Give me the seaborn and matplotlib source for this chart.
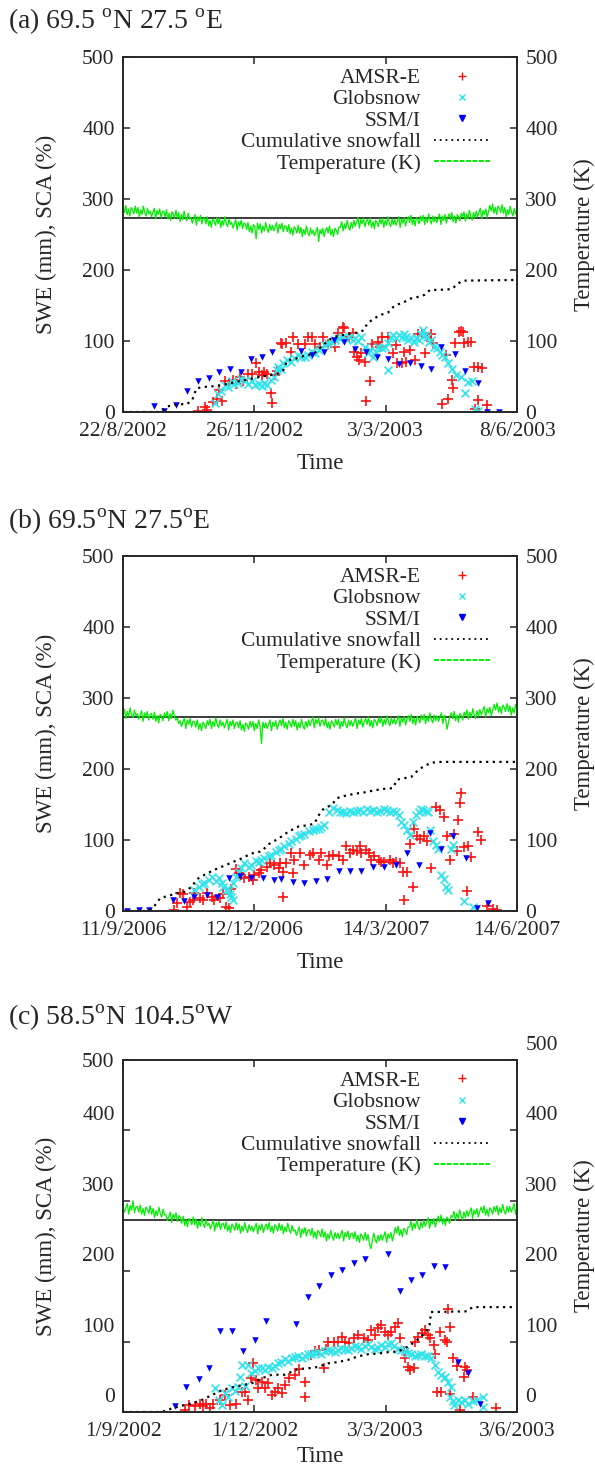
import matplotlib
matplotlib.use("Agg")
import matplotlib.pyplot as plt
import matplotlib.transforms as mtransforms
from matplotlib.lines import Line2D
import numpy as np
import pandas as pd
import seaborn as sns

sns.set_style("ticks")
plt.rcParams["font.family"] = ["Liberation Serif", "DejaVu Serif"]
plt.rcParams["mathtext.fontset"] = "custom"
plt.rcParams["mathtext.rm"] = "Liberation Serif"

RED = "#ff1010"
CYAN = "#30e4ec"
BLUE = "#0000ff"
GREEN = "#00ee00"

legend_labels = ["AMSR-E", "Globsnow", "SSM/I", "Cumulative snowfall", "Temperature (K)"]

## panel (a): 22/8/2002 - 8/6/2003, x in days since start
a_title = r"(a) 69.5 $^{\mathrm{o}}$N 27.5 $^{\mathrm{o}}$E"
a_ndays = 290
a_xticklabels = ["22/8/2002", "26/11/2002", "3/3/2003", "8/6/2003"]
a_amsr = [(55, 2), (60, 7), (62, 3), (66, 14), (69, 18), (71, 31), (73, 16), (75, 43), (78, 40), (81, 45),
          (83, 40), (86, 50), (88, 44), (92, 54), (95, 54), (98, 69), (100, 57), (102, 52), (104, 57), (106, 54),
          (109, 27), (110, 12), (112, 52), (113, 58), (116, 97), (117, 96), (120, 97), (124, 84), (125, 106),
          (129, 96), (134, 96), (136, 106), (139, 106), (141, 96), (145, 92), (147, 106), (151, 96), (156, 92),
          (158, 111), (162, 120), (163, 118), (166, 106), (169, 111), (170, 84), (172, 78), (174, 73), (175, 83),
          (178, 71), (182, 43), (179, 15), (183, 96), (188, 99), (189, 92), (191, 106), (195, 106), (199, 83),
          (201, 94), (202, 69), (205, 69), (207, 85), (208, 71), (211, 87), (215, 73), (217, 110), (220, 110),
          (222, 83), (224, 106), (227, 110), (228, 97), (235, 11), (238, 80), (239, 18), (242, 45), (243, 34),
          (244, 97), (247, 113), (249, 114), (250, 112), (251, 97), (254, 99), (256, 98), (258, 63), (259, 4),
          (261, 64), (261, 17), (264, 62), (268, 10)]
a_globs = [(68, 12), (70, 26), (72, 30), (75, 38), (77, 35), (80, 43), (82, 40), (85, 41), (87, 46), (90, 45),
           (92, 40), (95, 43), (97, 38), (100, 40), (102, 36), (104, 41), (106, 38), (109, 45), (111, 50), (113, 59),
           (116, 61), (114, 64), (118, 69), (121, 73), (124, 70), (126, 76), (129, 80), (131, 78), (134, 77),
           (136, 80), (139, 84), (141, 83), (144, 88), (146, 90), (149, 94), (151, 97), (154, 99), (156, 101),
           (159, 104), (161, 106), (164, 103), (166, 106), (169, 101), (171, 104), (173, 100), (175, 106),
           (178, 92), (180, 83), (182, 88), (184, 78), (186, 85), (188, 92), (191, 90), (193, 92), (195, 97),
           (197, 106), (199, 108), (201, 104), (203, 108), (205, 106), (207, 110), (208, 106), (210, 101),
           (212, 104), (214, 98), (216, 104), (218, 102), (219, 110), (221, 115), (222, 108), (224, 105),
           (225, 99), (227, 102), (229, 92), (231, 90), (233, 84), (235, 80), (237, 78), (239, 69), (242, 61),
           (245, 52), (249, 50), (252, 27), (254, 42), (257, 44), (259, 4), (261, 1), (195, 59)]
a_ssmi = [(23, 8), (30, 2), (39, 10), (47, 30), (55, 44), (63, 48), (71, 56), (79, 60), (87, 56), (94, 75),
          (102, 77), (110, 85), (131, 86), (139, 80), (148, 85), (155, 101), (163, 98), (171, 89), (179, 85),
          (187, 77), (195, 74), (203, 68), (211, 69), (219, 65), (227, 60), (234, 91), (244, 82), (252, 58),
          (261, 41), (268, 0), (277, 0)]
a_snow = [(0, 0), (27, 0), (33, 8), (38, 10), (42, 11), (47, 11), (51, 17), (54, 33), (58, 35), (65, 36),
          (73, 38), (80, 41), (87, 44), (95, 47), (102, 50), (109, 52), (114, 54), (118, 59), (121, 73),
          (126, 74), (131, 78), (136, 80), (141, 83), (146, 92), (151, 101), (156, 106), (161, 108), (166, 110),
          (173, 112), (177, 115), (180, 125), (185, 132), (190, 137), (195, 140), (199, 148), (204, 153),
          (207, 155), (212, 160), (217, 162), (222, 165), (226, 172), (232, 172), (242, 173), (246, 180),
          (250, 185), (290, 186)]
# daily temperature (K)
a_temp = [289, 281, 291, 278, 286, 276, 288, 285, 279, 290,
          280, 288, 275, 285, 278, 290, 281, 276, 287, 279,
          283, 275, 281, 287, 272, 284, 278, 286, 274, 282,
          283, 275, 285, 272, 280, 270, 282, 279, 273, 284,
          273, 281, 268, 278, 271, 283, 274, 269, 280, 272,
          274, 266, 272, 278, 263, 275, 269, 277, 265, 273,
          273, 265, 275, 262, 270, 260, 272, 269, 263, 274,
          265, 273, 260, 270, 263, 275, 266, 261, 272, 264,
          267, 259, 265, 271, 256, 268, 262, 270, 258, 266,
          265, 257, 267, 254, 262, 252, 264, 261, 244, 266,
          257, 265, 252, 262, 255, 267, 258, 253, 264, 256,
          263, 255, 261, 267, 252, 264, 258, 266, 254, 262,
          262, 254, 264, 251, 259, 249, 261, 258, 252, 263,
          252, 260, 247, 257, 250, 262, 253, 248, 259, 251,
          256, 248, 254, 260, 240, 257, 251, 259, 247, 255,
          260, 252, 262, 249, 257, 247, 259, 256, 250, 261,
          260, 268, 255, 265, 258, 270, 261, 256, 267, 259,
          270, 262, 268, 274, 259, 271, 265, 273, 261, 269,
          271, 263, 273, 260, 268, 258, 270, 267, 261, 272,
          265, 273, 260, 270, 263, 275, 266, 261, 272, 264,
          271, 263, 269, 275, 260, 272, 266, 274, 262, 270,
          275, 267, 277, 264, 272, 262, 274, 271, 265, 276,
          269, 277, 264, 274, 267, 279, 270, 265, 276, 268,
          275, 267, 273, 279, 264, 276, 270, 278, 266, 274,
          279, 271, 281, 268, 276, 266, 278, 275, 269, 280,
          274, 282, 269, 279, 272, 284, 275, 270, 281, 273,
          283, 275, 281, 287, 272, 284, 278, 286, 274, 282,
          291, 283, 293, 280, 288, 278, 290, 287, 281, 292,
          280, 288, 275, 285, 278, 290, 281, 276, 287, 279,
          281]

## panel (b): 11/9/2006 - 14/6/2007
b_title = r"(b) 69.5$^{\mathrm{o}}$N 27.5$^{\mathrm{o}}$E"
b_ndays = 276
b_xticklabels = ["11/9/2006", "12/12/2006", "14/3/2007", "14/6/2007"]
b_amsr = [(36, 1), (38, 11), (40, 25), (42, 24), (45, 6), (47, 13), (49, 16), (50, 25), (54, 18), (56, 15),
          (59, 25), (62, 20), (64, 15), (68, 18), (70, 24), (72, 6), (74, 4), (76, 31), (79, 59), (81, 54),
          (83, 51), (85, 47), (88, 48), (91, 44), (92, 51), (95, 53), (97, 58), (101, 62), (103, 67), (106, 65),
          (109, 60), (110, 67), (112, 55), (112, 20), (114, 67), (118, 81), (119, 54), (120, 72), (124, 81),
          (127, 65), (131, 79), (133, 81), (137, 72), (139, 81), (143, 65), (144, 77), (147, 79), (151, 77),
          (154, 72), (156, 91), (159, 81), (161, 86), (164, 84), (166, 91), (167, 81), (170, 86), (172, 81),
          (174, 72), (176, 77), (179, 72), (181, 69), (183, 69), (187, 72), (189, 67), (191, 69), (194, 67),
          (196, 55), (197, 15), (199, 55), (201, 95), (203, 34), (204, 116), (206, 106), (208, 102), (211, 105),
          (213, 98), (216, 60), (219, 147), (222, 142), (225, 133), (227, 105), (229, 72), (232, 109), (234, 84),
          (235, 128), (236, 152), (237, 166), (239, 90), (241, 28), (242, 91), (244, 76), (249, 111), (251, 100),
          (255, 7), (259, 3), (262, 1)]
b_globs = [(50, 30), (53, 34), (55, 38), (57, 39), (60, 44), (62, 48), (65, 42), (67, 46), (69, 40), (70, 34),
           (72, 30), (74, 30), (75, 24), (76, 20), (77, 15), (77, 39), (79, 48), (81, 55), (83, 60), (85, 67),
           (88, 62), (90, 65), (93, 70), (95, 69), (97, 72), (99, 74), (102, 77), (104, 79), (107, 83), (109, 86),
           (111, 88), (113, 91), (116, 95), (118, 98), (121, 102), (123, 105), (125, 107), (127, 109), (130, 112),
           (133, 114), (135, 115), (137, 116), (139, 119), (141, 121), (144, 140), (147, 145), (150, 142),
           (152, 140), (154, 139), (156, 138), (159, 141), (161, 140), (164, 141), (166, 142), (168, 139),
           (171, 143), (173, 141), (175, 142), (178, 140), (180, 141), (183, 143), (185, 142), (187, 140),
           (189, 141), (191, 139), (193, 135), (195, 126), (197, 121), (199, 114), (201, 107), (203, 126),
           (205, 135), (207, 140), (209, 143), (210, 142), (212, 141), (214, 140), (215, 114), (217, 98),
           (219, 93), (221, 88), (223, 51), (225, 45), (226, 34), (228, 30), (230, 88), (231, 93), (239, 14),
           (245, 6)]
b_ssmi = [(3, 0), (11, 1), (18, 1), (35, 15), (43, 14), (50, 20), (59, 22), (66, 20), (74, 46), (82, 50),
          (90, 47), (98, 47), (106, 44), (111, 45), (119, 41), (127, 40), (135, 42), (143, 45), (151, 56),
          (159, 56), (167, 56), (175, 62), (183, 62), (191, 65), (199, 81), (207, 65), (215, 110), (223, 88),
          (231, 105), (240, 75), (248, 4), (256, 11)]
b_snow = [(0, 0), (18, 0), (22, 7), (26, 18), (31, 21), (36, 24), (43, 27), (48, 34), (52, 45), (57, 51),
          (64, 58), (70, 63), (77, 69), (83, 74), (90, 81), (97, 84), (102, 94), (109, 102), (116, 112),
          (123, 119), (130, 121), (134, 123), (138, 138), (141, 145), (146, 149), (150, 159), (155, 162),
          (162, 165), (169, 167), (176, 170), (183, 172), (189, 173), (192, 185), (197, 187), (202, 189),
          (207, 199), (211, 204), (216, 209), (223, 210), (276, 210)]
b_temp = [276, 284, 271, 281, 274, 286, 277, 272, 283, 275,
          278, 270, 276, 282, 267, 279, 273, 281, 269, 277,
          278, 270, 280, 267, 275, 265, 277, 274, 268, 279,
          273, 281, 268, 278, 271, 283, 274, 269, 272, 264,
          268, 260, 266, 272, 257, 269, 263, 271, 259, 267,
          267, 259, 269, 256, 264, 254, 266, 263, 257, 268,
          262, 270, 257, 267, 260, 272, 263, 258, 269, 261,
          266, 258, 264, 270, 255, 267, 261, 269, 257, 265,
          266, 258, 268, 255, 263, 253, 265, 262, 256, 267,
          259, 267, 254, 264, 257, 269, 260, 236, 266, 258,
          265, 257, 263, 269, 254, 266, 260, 268, 256, 264,
          269, 261, 271, 258, 266, 256, 268, 265, 259, 270,
          260, 268, 255, 265, 258, 270, 261, 256, 267, 259,
          269, 261, 267, 273, 258, 270, 264, 272, 260, 268,
          269, 261, 271, 258, 266, 256, 268, 265, 259, 270,
          262, 270, 257, 267, 260, 272, 263, 258, 269, 261,
          268, 260, 266, 272, 257, 269, 263, 271, 259, 267,
          271, 263, 273, 260, 268, 258, 270, 267, 261, 272,
          265, 273, 260, 270, 263, 275, 266, 261, 272, 264,
          271, 263, 269, 275, 260, 272, 266, 274, 262, 270,
          275, 267, 277, 264, 272, 262, 274, 271, 265, 276,
          269, 277, 264, 274, 267, 279, 270, 265, 276, 268,
          275, 267, 273, 279, 264, 276, 270, 256, 266, 274,
          279, 271, 281, 268, 276, 266, 278, 275, 269, 280,
          275, 283, 270, 280, 273, 285, 276, 271, 282, 274,
          284, 276, 282, 288, 273, 285, 279, 287, 275, 283,
          291, 283, 293, 280, 288, 278, 290, 287, 281, 292,
          281, 289, 276, 286, 279, 291, 282]

## panel (c): 1/9/2002 - 3/6/2003
c_title = r"(c) 58.5$^{\mathrm{o}}$N 104.5$^{\mathrm{o}}$W"
c_ndays = 275
c_xticklabels = ["1/9/2002", "1/12/2002", "3/3/2003", "3/6/2003"]
c_amsr = [(43, 3), (46, 10), (50, 8), (54, 11), (56, 9), (58, 12), (61, 5), (63, 11), (68, 17), (71, 24),
          (75, 10), (79, 12), (83, 29), (85, 29), (87, 17), (89, 48), (91, 69), (93, 45), (94, 34), (97, 43),
          (99, 34), (101, 41), (104, 24), (106, 29), (108, 34), (111, 27), (113, 38), (116, 49), (120, 53),
          (123, 61), (127, 43), (127, 22), (131, 81), (134, 86), (137, 88), (140, 63), (142, 89), (143, 100),
          (147, 100), (150, 100), (153, 107), (155, 100), (158, 98), (161, 105), (164, 109), (168, 105),
          (171, 102), (173, 116), (176, 109), (178, 119), (180, 124), (183, 114), (185, 109), (187, 114),
          (190, 121), (192, 126), (193, 105), (196, 86), (197, 76), (199, 64), (200, 60), (203, 62), (204, 100),
          (206, 107), (209, 112), (211, 116), (213, 109), (214, 105), (217, 95), (218, 83), (219, 28), (221, 114),
          (222, 29), (225, 102), (226, 100), (227, 146), (228, 121), (228, 25), (230, 77), (233, 65), (235, 3),
          (238, 50), (239, 64), (240, 60), (244, 21), (260, 6)]
c_globs = [(64, 34), (67, 17), (69, 10), (71, 27), (73, 22), (76, 34), (78, 30), (80, 36), (82, 50), (83, 67),
           (85, 37), (87, 67), (89, 55), (92, 58), (94, 63), (97, 62), (99, 60), (101, 64), (104, 62), (106, 66),
           (108, 69), (110, 71), (113, 75), (115, 73), (118, 76), (120, 78), (122, 79), (125, 77), (127, 80),
           (129, 83), (131, 82), (134, 84), (136, 85), (138, 83), (141, 86), (143, 88), (145, 87), (148, 85),
           (150, 88), (152, 91), (155, 90), (157, 88), (159, 91), (162, 94), (164, 93), (166, 90), (169, 94),
           (171, 96), (173, 93), (176, 90), (178, 91), (180, 95), (183, 93), (185, 96), (187, 98), (189, 94),
           (192, 90), (194, 88), (197, 86), (199, 84), (201, 82), (204, 80), (206, 81), (208, 83), (211, 79),
           (213, 80), (215, 77), (218, 67), (220, 57), (222, 53), (224, 48), (225, 50), (227, 43), (229, 35),
           (230, 15), (231, 10), (228, 21), (234, 17), (236, 14), (239, 17), (241, 12), (244, 15), (247, 17),
           (251, 21), (251, 7)]
c_ssmi = [(36, 9), (44, 36), (53, 47), (60, 63), (68, 115), (76, 115), (84, 86), (92, 102), (100, 129),
          (121, 125), (129, 163), (137, 179), (145, 194), (153, 201), (161, 212), (169, 218), (185, 224),
          (193, 172), (201, 188), (209, 195), (217, 207), (225, 206), (234, 71), (241, 55), (249, 11)]
c_snow = [(0, 0), (27, 0), (34, 5), (41, 9), (48, 12), (55, 17), (62, 24), (69, 31), (76, 35), (83, 38),
          (90, 41), (97, 48), (104, 53), (113, 53), (122, 61), (129, 62), (136, 64), (143, 69), (150, 71),
          (157, 74), (164, 79), (171, 82), (178, 83), (185, 85), (192, 86), (199, 93), (204, 100), (208, 107),
          (212, 116), (214, 124), (215, 142), (240, 143), (244, 149), (275, 149)]
c_temp = [292, 284, 290, 296, 281, 293, 287, 300, 283, 291,
          292, 284, 294, 281, 289, 279, 291, 288, 282, 293,
          281, 289, 276, 286, 279, 291, 282, 277, 288, 280,
          280, 272, 278, 284, 269, 281, 275, 283, 271, 279,
          276, 268, 278, 265, 273, 263, 275, 272, 266, 277,
          266, 274, 261, 271, 264, 276, 267, 262, 273, 265,
          268, 260, 266, 272, 257, 269, 263, 271, 259, 267,
          268, 260, 270, 257, 265, 255, 267, 264, 258, 269,
          259, 267, 254, 264, 257, 269, 260, 255, 266, 258,
          264, 256, 262, 268, 253, 265, 259, 267, 255, 263,
          267, 259, 269, 256, 264, 254, 266, 263, 257, 268,
          258, 266, 253, 263, 256, 268, 259, 254, 265, 257,
          259, 251, 257, 263, 248, 260, 254, 262, 250, 258,
          259, 251, 261, 248, 256, 246, 258, 255, 249, 260,
          248, 256, 243, 253, 246, 258, 249, 244, 255, 247,
          254, 246, 252, 258, 243, 255, 249, 257, 245, 253,
          254, 246, 256, 243, 251, 241, 253, 250, 244, 255,
          244, 252, 239, 232, 242, 254, 245, 240, 251, 243,
          252, 244, 250, 256, 241, 253, 247, 255, 243, 251,
          262, 254, 264, 251, 259, 249, 261, 258, 252, 263,
          263, 271, 258, 268, 261, 273, 264, 259, 270, 262,
          272, 264, 270, 276, 261, 273, 267, 275, 263, 271,
          278, 270, 280, 267, 275, 265, 277, 274, 268, 279,
          277, 285, 272, 282, 275, 287, 278, 273, 284, 276,
          286, 278, 284, 290, 275, 287, 281, 289, 277, 285,
          291, 283, 293, 280, 288, 278, 290, 287, 281, 292,
          285, 293, 280, 290, 283, 295, 286, 281, 292, 284,
          292, 284, 290, 296, 281, 293]

FIG_W, FIG_H = 595, 1468


def draw_panel(fig, rect, title, title_y, ndays, xticklabels, amsr, globs, ssmi, snow, temp,
               xlabel_y=-0.115, shift=False):
    ax = fig.add_axes(rect)
    ax2 = ax.twinx()

    df_amsr = pd.DataFrame(amsr, columns=["day", "swe"])
    df_glob = pd.DataFrame(globs, columns=["day", "swe"])
    df_ssmi = pd.DataFrame(ssmi, columns=["day", "swe"])
    df_snow = pd.DataFrame(snow, columns=["day", "swe"])
    df_temp = pd.DataFrame({"day": np.arange(len(temp)), "temp": temp})

    sns.scatterplot(data=df_amsr, x="day", y="swe", marker="+", s=45, color=RED,
                    linewidth=1.2, ax=ax, legend=False)
    sns.scatterplot(data=df_glob, x="day", y="swe", marker="x", s=32, color=CYAN,
                    linewidth=1.2, ax=ax, legend=False)
    sns.scatterplot(data=df_ssmi, x="day", y="swe", marker="v", s=22, color=BLUE,
                    edgecolor=BLUE, linewidth=0, ax=ax, legend=False)
    sns.lineplot(data=df_snow, x="day", y="swe", color="black", lw=1.6, linestyle=(0, (1, 2)),
                 estimator=None, sort=False, ax=ax, legend=False)

    sns.lineplot(data=df_temp, x="day", y="temp", color=GREEN, lw=0.9,
                 estimator=None, sort=False, ax=ax2, legend=False)
    ax2.axhline(273, color="#3c3c3c", lw=1.4, zorder=1)

    for a in (ax, ax2):
        a.set_ylim(0, 500)
        a.set_yticks(range(0, 501, 100))
        for sp in a.spines.values():
            sp.set_linewidth(1.2)
    ax.set_xlim(0, ndays)
    ax.set_xticks(np.linspace(0, ndays, 4))
    ax.set_xticklabels(xticklabels)
    ax.tick_params(direction="in", length=5, width=1.1, labelsize=15.5, top=True, right=False, pad=6)
    ax.tick_params(axis="x", pad=7)
    ax2.tick_params(direction="in", length=5, width=1.1, labelsize=15.5, pad=6)

    ax.set_xlabel("Time", fontsize=16.5)
    ax.xaxis.set_label_coords(0.5, xlabel_y)
    ax.set_ylabel("SWE (mm), SCA (%)", fontsize=16.5)
    ax.yaxis.set_label_coords(-0.1675, 0.5)
    ax2.set_ylabel("Temperature (K)", fontsize=16.5)
    ax2.yaxis.set_label_coords(1.145, 0.5)

    handles = [
        Line2D([], [], marker="+", color=RED, ls="none", ms=6, mew=1),
        Line2D([], [], marker="x", color=CYAN, ls="none", ms=4.5, mew=1),
        Line2D([], [], marker="v", color=BLUE, ls="none", ms=4, mec=BLUE),
        Line2D([], [], color="black", ls=(0, (1, 2.2)), lw=1.3),
        Line2D([], [], color=GREEN, ls=(0, (2.5, 0.8)), lw=1.4),
    ]
    ax2.legend(handles, legend_labels, loc="upper right", bbox_to_anchor=(0.931, 0.969),
               frameon=False, markerfirst=False, fontsize=15.5, handlelength=2.6,
               handletextpad=0.6, labelspacing=0.06, borderpad=0, borderaxespad=0)

    if shift:
        # tick labels sit above their tick marks in this panel
        off = mtransforms.ScaledTranslation(0, 0.17, fig.dpi_scale_trans)
        for t in ax.yaxis.get_major_ticks()[:5]:
            t.label1.set_transform(t.label1.get_transform() + off)
        for t in ax2.yaxis.get_major_ticks():
            t.label2.set_transform(t.label2.get_transform() + off)

    fig.text(8 / FIG_W, 1 - title_y / FIG_H, title, fontsize=20, ha="left", va="center")
    return ax, ax2


fig = plt.figure(figsize=(FIG_W / 100, FIG_H / 100), dpi=100)
left = 123 / FIG_W
width = 394 / FIG_W
draw_panel(fig, [left, 1 - 412 / FIG_H, width, 355 / FIG_H], a_title, 22, a_ndays, a_xticklabels,
           a_amsr, a_globs, a_ssmi, a_snow, a_temp)
draw_panel(fig, [left, 1 - 911 / FIG_H, width, 355 / FIG_H], b_title, 522, b_ndays, b_xticklabels,
           b_amsr, b_globs, b_ssmi, b_snow, b_temp)
draw_panel(fig, [left, 1 - 1412 / FIG_H, width, 352 / FIG_H], c_title, 1018, c_ndays, c_xticklabels,
           c_amsr, c_globs, c_ssmi, c_snow, c_temp, xlabel_y=-0.098, shift=True)

fig.savefig("out.png", dpi=100)
plt.close(fig)
